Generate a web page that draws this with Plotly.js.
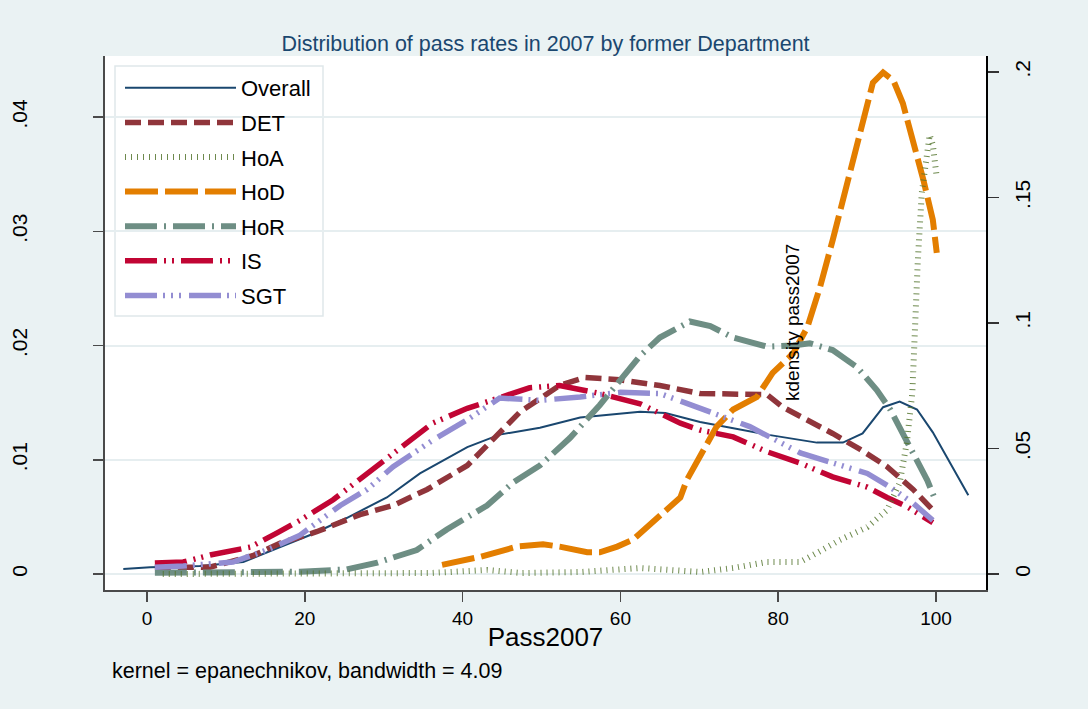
<!DOCTYPE html>
<html>
<head>
<meta charset="utf-8">
<script src="https://cdn.plot.ly/plotly-3.0.1.min.js"></script>
<style>
html,body{margin:0;padding:0;background:#eaf2f3;}
#chart{width:1088px;height:709px;}
</style>
</head>
<body>
<div id="chart"></div>
<script>
// ---- data ----
const seriesNames = ["Overall", "DET", "HoA", "HoD", "HoR", "IS", "SGT"];

const overallX = [-3.0, 0.4, 6.7, 12.2, 17.2, 21.0, 25.3, 30.4, 34.6, 40.6, 44.7, 49.8, 54.9, 62.5, 65.7, 70.1, 78.6, 84.9, 88.2, 90.7, 93.3, 95.4, 97.6, 99.6, 104.1];
const overallY = [0.00044, 0.0006, 0.0007, 0.00105, 0.00245, 0.0035, 0.0049, 0.0067, 0.0088, 0.0111, 0.0122, 0.0128, 0.0137, 0.0142, 0.0141, 0.0133, 0.0122, 0.0115, 0.0115, 0.0123, 0.0146, 0.0151, 0.0144, 0.0124, 0.0069];

const detX = [1.0, 8.0, 13.4, 16.9, 21.5, 27.0, 31.2, 35.5, 40.6, 44.7, 47.3, 52.3, 55.5, 59.9, 65.0, 70.1, 74.3, 78.6, 80.6, 83.7, 86.9, 90.4, 93.8, 97.1, 99.6];
const detY = [0.0006, 0.0006, 0.0016, 0.0027, 0.0037, 0.0052, 0.0060, 0.0074, 0.0095, 0.0124, 0.0142, 0.0165, 0.0172, 0.0170, 0.0165, 0.0158, 0.0158, 0.0157, 0.0146, 0.0135, 0.0123, 0.0109, 0.0094, 0.0074, 0.0056];

const hoaX = [2.0, 20.0, 36.0, 43.1, 47.5, 55.0, 62.5, 70.1, 74.3, 78.6, 82.8, 84.9, 87.8, 91.3, 93.8, 95.4, 96.3, 97.0, 97.3, 97.7, 98.2, 98.9, 99.2, 99.6, 100.1];
const hoaY = [0.0, 0.0, 0.0004, 0.0016, 0.0004, 0.0008, 0.0024, 0.0008, 0.0024, 0.0048, 0.0048, 0.0084, 0.0135, 0.0187, 0.0255, 0.0363, 0.0522, 0.0721, 0.0984, 0.1251, 0.1518, 0.1717, 0.1749, 0.1710, 0.1580];

const hodX = [37.4, 42.2, 46.9, 50.2, 52.3, 55.8, 57.4, 59.6, 61.6, 64.1, 65.9, 67.6, 68.4, 70.1, 72.2, 74.3, 77.3, 79.3, 81.9, 83.7, 85.3, 86.9, 88.7, 90.4, 92.0, 93.3, 94.6, 95.8, 97.1, 98.4, 99.6, 100.1];
const hodY = [0.0008, 0.0015, 0.0024, 0.0026, 0.0024, 0.0019, 0.0019, 0.0024, 0.0030, 0.0045, 0.0056, 0.0067, 0.0082, 0.0102, 0.0129, 0.0144, 0.0155, 0.0176, 0.0193, 0.0216, 0.0251, 0.0292, 0.0339, 0.0386, 0.0430, 0.0439, 0.0432, 0.0412, 0.0380, 0.0345, 0.0310, 0.0281];

const horX = [1.0, 10.9, 19.4, 25.3, 29.2, 34.2, 38.0, 43.1, 46.4, 49.8, 53.6, 57.4, 60.0, 62.5, 65.0, 68.8, 71.4, 74.3, 78.6, 81.9, 84.0, 86.9, 90.0, 92.5, 94.2, 95.8, 97.6, 98.9, 99.9];
const horY = [0.0001, 0.0001, 0.0002, 0.0004, 0.0010, 0.0021, 0.0039, 0.0060, 0.0080, 0.0095, 0.0119, 0.0148, 0.0170, 0.0191, 0.0207, 0.0221, 0.0217, 0.0207, 0.0199, 0.0200, 0.0202, 0.0196, 0.0181, 0.0161, 0.0144, 0.0123, 0.0100, 0.0082, 0.0065];

const isX = [1.0, 4.6, 8.0, 13.1, 16.5, 19.4, 23.6, 27.9, 32.1, 36.2, 40.6, 44.7, 48.5, 52.3, 57.4, 62.5, 67.6, 70.1, 74.3, 78.6, 82.8, 86.9, 91.3, 93.8, 96.3, 99.6];
const isY = [0.00096, 0.00105, 0.00166, 0.00236, 0.0036, 0.0047, 0.0065, 0.0088, 0.0111, 0.0132, 0.0145, 0.0155, 0.0163, 0.0165, 0.0158, 0.0149, 0.0132, 0.0126, 0.0120, 0.0107, 0.0097, 0.0085, 0.0076, 0.0067, 0.0059, 0.0045];

const sgtX = [1.0, 4.6, 10.9, 15.2, 19.4, 24.5, 27.9, 31.2, 36.2, 40.6, 44.7, 49.8, 54.9, 60.0, 65.0, 70.1, 76.4, 82.8, 91.3, 94.2, 97.1, 99.6];
const sgtY = [0.0006, 0.0007, 0.00105, 0.0021, 0.0034, 0.0060, 0.0074, 0.0094, 0.0117, 0.0135, 0.0154, 0.0152, 0.0155, 0.0159, 0.0158, 0.0145, 0.0129, 0.0106, 0.0088, 0.0076, 0.0062, 0.0047];

const xTickVals = [0, 20, 40, 60, 80, 100];
const xTickText = ["0", "20", "40", "60", "80", "100"];
const yTickVals = [0, 0.01, 0.02, 0.03, 0.04];
const yTickText = ["0", ".01", ".02", ".03", ".04"];
const y2TickVals = [0, 0.05, 0.1, 0.15, 0.2];
const y2TickText = ["0", ".05", ".1", ".15", ".2"];

const titleText = "Distribution of pass rates in 2007 by former Department";
const xTitleText = "Pass2007";
const y2TitleText = "kdensity pass2007";
const noteText = "kernel = epanechnikov, bandwidth = 4.09";

// ---- styles ----
const FONT = "Liberation Sans, Arial, Helvetica, sans-serif";
const styles = {
  Overall: {color: "#1a476f", width: 2, dash: "solid"},
  DET: {color: "#90353b", width: 5.5, dash: "16px,7px"},
  HoA: {color: "#55752f", width: 6, dash: "1px,5px"},
  HoD: {color: "#e37e00", width: 6, dash: "33px,7px"},
  HoR: {color: "#6e8e84", width: 6, dash: "32px,7px,2px,7px"},
  IS: {color: "#c10534", width: 5.5, dash: "32px,7px,2px,6px,2px,7px"},
  SGT: {color: "#938dd2", width: 5.5, dash: "32px,6px,2px,6px,2px,6px,2px,8px"}
};

const xs = [overallX, detX, hoaX, hodX, horX, isX, sgtX];
const ys = [overallY, detY, hoaY, hodY, horY, isY, sgtY];

const traces = seriesNames.map((n, i) => ({
  type: "scatter",
  mode: "lines",
  name: n,
  legendgroup: n,
  x: xs[i],
  y: ys[i],
  yaxis: n === "HoA" ? "y2" : "y",
  line: {color: styles[n].color, width: styles[n].width, dash: styles[n].dash},
  opacity: n === "HoA" ? 0.85 : 1,
  hoverinfo: "skip"
}));

const L = 105, R = 986, T = 56, B = 590, W = 1088, H = 709;
const pw = R - L, ph = B - T;
const px = v => (v - L) / pw;
const py = v => (B - v) / ph;

const layout = {
  width: W, height: H,
  paper_bgcolor: "#eaf2f3",
  plot_bgcolor: "#ffffff",
  margin: {l: L, r: W - R, t: T, b: H - B, pad: 0},
  font: {family: FONT, color: "#000000"},
  showlegend: true,
  title: {
    text: titleText,
    font: {family: FONT, size: 21.5, color: "#1a476f"},
    xref: "paper", x: 0.5, xanchor: "center",
    yref: "container", y: 1 - 43 / H, yanchor: "middle"
  },
  xaxis: {
    range: [-5.32, 106.34],
    tickmode: "array", tickvals: xTickVals, ticktext: xTickText,
    showgrid: false, zeroline: false,
    showline: true, linecolor: "#4a4a4a", linewidth: 2,
    ticks: "outside", ticklen: 10, tickwidth: 1.5, tickcolor: "#4a4a4a",
    tickfont: {family: FONT, size: 19, color: "#000"},
    title: {text: xTitleText, font: {family: FONT, size: 26, color: "#000"}, standoff: 0},
    automargin: false, fixedrange: true
  },
  yaxis: {
    range: [-0.0014, 0.04534],
    tickmode: "array", tickvals: yTickVals, ticktext: yTickText,
    tickangle: -90,
    showgrid: true, gridcolor: "#e6eef0", gridwidth: 2,
    zeroline: false,
    showline: true, linecolor: "#4a4a4a", linewidth: 2,
    ticks: "outside", ticklen: 10, tickwidth: 1.5, tickcolor: "#4a4a4a",
    tickfont: {family: FONT, size: 21, color: "#000"},
    ticklabelstandoff: 58,
    automargin: false, fixedrange: true
  },
  yaxis2: {
    overlaying: "y", side: "right",
    range: [-0.00637, 0.20637],
    tickmode: "array", tickvals: y2TickVals, ticktext: y2TickText,
    tickangle: -90,
    showgrid: false, zeroline: false,
    showline: true, linecolor: "#000000", linewidth: 2,
    ticks: "outside", ticklen: 11, tickwidth: 1.5, tickcolor: "#333",
    tickfont: {family: FONT, size: 21, color: "#000"},
    ticklabelstandoff: 6,
    automargin: false, fixedrange: true
  },
  legend: {
    x: px(120), y: py(67), xanchor: "left", yanchor: "top",
    xref: "paper", yref: "paper",
    bgcolor: "rgba(0,0,0,0)", borderwidth: 0,
    font: {family: FONT, size: 22, color: "#000"},
    traceorder: "grouped", tracegroupgap: 3,
    itemwidth: 111, itemclick: false, itemdoubleclick: false
  },
  shapes: [{
    type: "rect", xref: "paper", yref: "paper",
    x0: px(115), x1: px(323), y0: py(316), y1: py(66),
    fillcolor: "#ffffff", line: {color: "#dfe8ea", width: 1.5}, layer: "below"
  }],
  annotations: [
    {text: y2TitleText, xref: "paper", yref: "paper", x: px(792), y: 0.5,
     xanchor: "center", yanchor: "middle", textangle: -90, showarrow: false,
     font: {family: FONT, size: 19, color: "#000"}},
    {text: noteText, xref: "paper", yref: "paper", x: px(110), y: py(671),
     xanchor: "left", yanchor: "middle", showarrow: false,
     font: {family: FONT, size: 21.5, color: "#000"}}
  ]
};

Plotly.newPlot("chart", traces, layout, {displayModeBar: false, staticPlot: true});
</script>
</body>
</html>
